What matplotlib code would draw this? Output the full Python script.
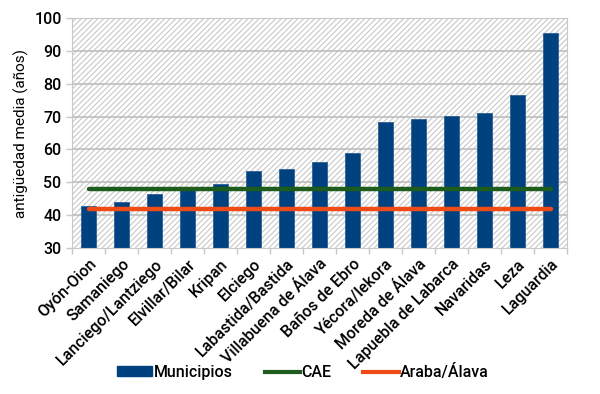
import matplotlib
matplotlib.use("Agg")
import matplotlib.pyplot as plt
from matplotlib.patches import Rectangle, Patch
from matplotlib.lines import Line2D
import numpy as np

MUNICIPIOS = ["Oyón-Oion", "Samaniego", "Lanciego/Lantziego", "Elvillar/Bilar",
              "Kripan", "Elciego", "Labastida/Bastida", "Villabuena de Álava",
              "Baños de Ebro", "Yécora/Iekora", "Moreda de Álava",
              "Lapuebla de Labarca", "Navaridas", "Leza", "Laguardia"]
ANTIGUEDAD = [42.7, 43.9, 46.3, 48.3, 49.6, 53.5, 54.2, 56.1, 58.9,
              68.4, 69.3, 70.3, 71.0, 76.5, 95.4]
CAE = 48.0
ARABA = 41.8

BLUE = "#00427F"
GREEN = "#1E5C1E"
ORANGE = "#EE4B16"

plt.rcParams["font.family"] = ["Roboto", "DejaVu Sans"]
plt.rcParams["font.weight"] = "medium"
plt.rcParams["hatch.color"] = "#C8C8C8"
plt.rcParams["hatch.linewidth"] = 0.8

fig = plt.figure(figsize=(6.0, 3.94), dpi=100, facecolor="white")
ax = fig.add_axes([0.12, 0.3706, 0.825, 0.5834])

x = np.arange(len(MUNICIPIOS))
ax.set_xlim(-0.5, len(MUNICIPIOS) - 0.5)
ax.set_ylim(30, 100)

# hatched background
ax.add_patch(Rectangle((0, 0), 1, 1, transform=ax.transAxes, facecolor="white",
                       edgecolor="#C8C8C8", hatch="//////", lw=0, zorder=0))
for y in range(40, 101, 10):
    ax.axhline(y, color="#BEBEBE", lw=1.2, zorder=1)

ax.bar(x, np.array(ANTIGUEDAD) - 30, bottom=30, width=0.48, color=BLUE,
       edgecolor="#2E5F95", lw=0.6, zorder=2)
ax.plot(x, [CAE] * len(x), color=GREEN, lw=3.2, solid_capstyle="round", zorder=3)
ax.plot(x, [ARABA] * len(x), color=ORANGE, lw=3.2, solid_capstyle="round", zorder=3)

for s in ax.spines.values():
    s.set_color("#C8C8C8")
ax.set_yticks(range(30, 101, 10))
ax.tick_params(axis="y", length=4, color="#C8C8C8", labelsize=11.5, width=1)
ax.set_xticks(x)
ax.set_xticks(np.arange(-0.5, len(x), 1), minor=True)
ax.tick_params(axis="x", which="major", length=0, pad=6, labelsize=11.5)
ax.tick_params(axis="x", which="minor", length=4, color="#C8C8C8", width=1)
ax.set_xticklabels(MUNICIPIOS, rotation=45, ha="right", rotation_mode="anchor")
ax.set_ylabel("antigüedad media (años)", fontsize=11, labelpad=4)

handles = [Patch(facecolor=BLUE, edgecolor=BLUE, label="Municipios"),
           Line2D([0], [0], color=GREEN, lw=3, label="CAE"),
           Line2D([0], [0], color=ORANGE, lw=3, label="Araba/Álava")]
fig.legend(handles=handles, loc="center", bbox_to_anchor=(0.505, 0.056), ncol=3,
           frameon=False, handlelength=2.2, handleheight=0.6,
           handletextpad=0.1, columnspacing=2.0,
           prop={"weight": "medium", "size": 11.5})

fig.savefig("out.png", dpi=100, facecolor="white")
